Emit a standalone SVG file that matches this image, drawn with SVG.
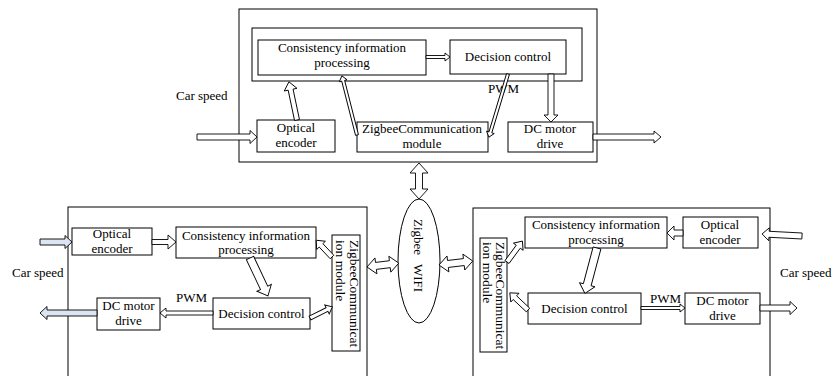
<svg xmlns="http://www.w3.org/2000/svg" width="834" height="376" viewBox="0 0 834 376">
<style>
.box{fill:#fff;stroke:#000;stroke-width:1}
.frame{fill:none;stroke:#000;stroke-width:1}
.t{font-family:"Liberation Serif","Times New Roman",serif;font-size:13px;fill:#000}
.m{text-anchor:middle}
.zt{font-size:13.5px}
.ar{fill:#fff;stroke:#000;stroke-width:0.9;stroke-linejoin:miter}
.arb{fill:#dce6f2;stroke:#000;stroke-width:0.9}
</style>
<rect width="834" height="376" fill="#fff"/>

<g id="top-unit">
  <rect class="frame" x="239" y="9" width="358" height="153"/>
  <rect class="frame" x="252" y="28" width="330" height="53"/>
  <text class="t" x="176" y="100">Car speed</text>
  <text class="t" x="488" y="93">PWM</text>
</g>
<g id="top-consistency"><rect class="box" x="258" y="40" width="168" height="35"/>
  <text class="t m" x="342" y="52">Consistency information</text><text class="t m" x="342" y="67">processing</text></g>
<g id="top-decision"><rect class="box" x="450" y="40" width="116" height="34"/>
  <text class="t m" x="508" y="61">Decision control</text></g>
<g id="top-encoder"><rect class="box" x="257" y="120" width="78" height="32"/>
  <text class="t m" x="296" y="132">Optical</text><text class="t m" x="296" y="147">encoder</text></g>
<g id="top-zigbee"><rect class="box" x="357" y="122" width="131" height="30"/>
  <text class="t m" x="422" y="133">ZigbeeCommunication</text><text class="t m" x="422" y="148">module</text></g>
<g id="top-motor"><rect class="box" x="508" y="122" width="85" height="30"/>
  <text class="t m" x="550" y="133">DC motor</text><text class="t m" x="550" y="148">drive</text></g>

<g id="wireless">
  <ellipse cx="419" cy="261" rx="21" ry="62" fill="#fff" stroke="#000" stroke-width="1"/>
  <text class="t m" transform="translate(419,261) rotate(90)" y="5"><tspan x="-24">Zigbee</tspan><tspan x="17">WIFI</tspan></text>
</g>

<g id="left-unit">
  <rect class="frame" x="68" y="207" width="299" height="175"/>
  <text class="t" x="12" y="277">Car speed</text>
  <text class="t" x="176" y="302">PWM</text>
</g>
<g id="left-encoder"><rect class="box" x="72" y="228" width="80" height="27"/>
  <text class="t m" x="112" y="238">Optical</text><text class="t m" x="112" y="253">encoder</text></g>
<g id="left-consistency"><rect class="box" x="176" y="227" width="140" height="31"/>
  <text class="t m" x="246" y="240">Consistency information</text><text class="t m" x="246" y="254">processing</text></g>
<g id="left-zigbee"><rect class="box" x="332" y="235" width="28" height="116"/>
  <text class="t zt" transform="translate(350,240) rotate(90)"><tspan x="0" y="0">ZigbeeCommunicat</tspan><tspan x="0" y="14">ion module</tspan></text></g>
<g id="left-motor"><rect class="box" x="97" y="298" width="63" height="32"/>
  <text class="t m" x="128.5" y="310">DC motor</text><text class="t m" x="128.5" y="325">drive</text></g>
<g id="left-decision"><rect class="box" x="213" y="298" width="97" height="31"/>
  <text class="t m" x="261.5" y="318">Decision control</text></g>

<g id="right-unit">
  <rect class="frame" x="473" y="208" width="297" height="174"/>
  <text class="t" x="780" y="277">Car speed</text>
  <text class="t" x="650" y="303">PWM</text>
</g>
<g id="right-zigbee"><rect class="box" x="480" y="238" width="27" height="114"/>
  <text class="t zt" transform="translate(496,242) rotate(90)"><tspan x="0" y="0">ZigbeeCommunicat</tspan><tspan x="0" y="13.5">ion module</tspan></text></g>
<g id="right-consistency"><rect class="box" x="525" y="217" width="142" height="31"/>
  <text class="t m" x="596" y="229">Consistency information</text><text class="t m" x="596" y="244">processing</text></g>
<g id="right-encoder"><rect class="box" x="683" y="217" width="75" height="31"/>
  <text class="t m" x="720" y="229">Optical</text><text class="t m" x="720" y="244">encoder</text></g>
<g id="right-decision"><rect class="box" x="528" y="293" width="113" height="31"/>
  <text class="t m" x="584.5" y="313">Decision control</text></g>
<g id="right-motor"><rect class="box" x="685" y="293" width="75" height="31"/>
  <text class="t m" x="722.5" y="305">DC motor</text><text class="t m" x="722.5" y="320">drive</text></g>

<g id="connectors">
  <path class="ar" transform="translate(197,137)" d="M0,-3 H53 V-6.5 L60,0 L53,6.5 V3 H0 Z"/>
  <path class="ar" transform="translate(297,120) rotate(-101.9)" d="M0,-2.5 H31 V-6.5 L39,0 L31,6.5 V2.5 H0 Z"/>
  <path class="ar" transform="translate(357,135) rotate(-104.3)" d="M0,-1.5 H56 V-4 L61,0 L56,4 V1.5 H0 Z"/>
  <path class="ar" transform="translate(426,57)" d="M0,-1.5 H19 V-4 L24,0 L19,4 V1.5 H0 Z"/>
  <path class="ar" transform="translate(508,74) rotate(106.8)" d="M0,-1.5 H61 V-4 L66,0 L61,4 V1.5 H0 Z"/>
  <path class="ar" transform="translate(551,74) rotate(90)" d="M0,-3 H41 V-7 L48,0 L41,7 V3 H0 Z"/>
  <path class="ar" transform="translate(593,137)" d="M0,-3 H61 V-6 L68,0 L61,6 V3 H0 Z"/>
  <path class="ar" transform="translate(419,163) rotate(90)" d="M0,0 L10,-9 V-3.5 H26 V-9 L36,0 L26,9 V3.5 H10 V9 Z"/>
  <path class="arb" transform="translate(40,242)" d="M0,-3 H25 V-6.5 L32,0 L25,6.5 V3 H0 Z"/>
  <path class="ar" transform="translate(152,242)" d="M0,-2.5 H16 V-7 L24,0 L16,7 V2.5 H0 Z"/>
  <path class="ar" transform="translate(250,258) rotate(64.7)" d="M0,-4 H33 V-8 L42,0 L33,8 V4 H0 Z"/>
  <path class="ar" transform="translate(213,313) rotate(180)" d="M0,-2 H47 V-5 L53,0 L47,5 V2 H0 Z"/>
  <path class="arb" transform="translate(97,313) rotate(180)" d="M0,-3 H50 V-6.5 L57,0 L50,6.5 V3 H0 Z"/>
  <path class="ar" transform="translate(310,318) rotate(-26.6)" d="M0,-2 H19 V-5 L25,0 L19,5 V2 H0 Z"/>
  <path class="ar" transform="translate(332,257) rotate(-133.3)" d="M0,-2.5 H16 V-6 L23,0 L16,6 V2.5 H0 Z"/>
  <path class="ar" transform="translate(367,267) rotate(-7)" d="M0,0 L9,-8 V-3.5 H23 V-8 L32,0 L23,8 V3.5 H9 V8 Z"/>
  <path class="ar" transform="translate(802,236) rotate(-177)" d="M0,-3 H33 V-6.5 L40,0 L33,6.5 V3 H0 Z"/>
  <path class="ar" transform="translate(683,233) rotate(180)" d="M0,-3 H9 V-7 L16,0 L9,7 V3 H0 Z"/>
  <path class="ar" transform="translate(597,248) rotate(104.9)" d="M0,-4 H38 V-8 L47,0 L38,8 V4 H0 Z"/>
  <path class="ar" transform="translate(641,308)" d="M0,-1.5 H39 V-4 L44,0 L39,4 V1.5 H0 Z"/>
  <path class="ar" transform="translate(760,308)" d="M0,-3 H30 V-6.5 L37,0 L30,6.5 V3 H0 Z"/>
  <path class="ar" transform="translate(507,262) rotate(-53.6)" d="M0,-2.5 H19 V-6 L26,0 L19,6 V2.5 H0 Z"/>
  <path class="ar" transform="translate(528,310) rotate(-136.7)" d="M0,-2.5 H18 V-6 L25,0 L18,6 V2.5 H0 Z"/>
  <path class="ar" transform="translate(439,265) rotate(-6.7)" d="M0,0 L9,-8 V-3.5 H25 V-8 L34,0 L25,8 V3.5 H9 V8 Z"/>
</g>
</svg>
